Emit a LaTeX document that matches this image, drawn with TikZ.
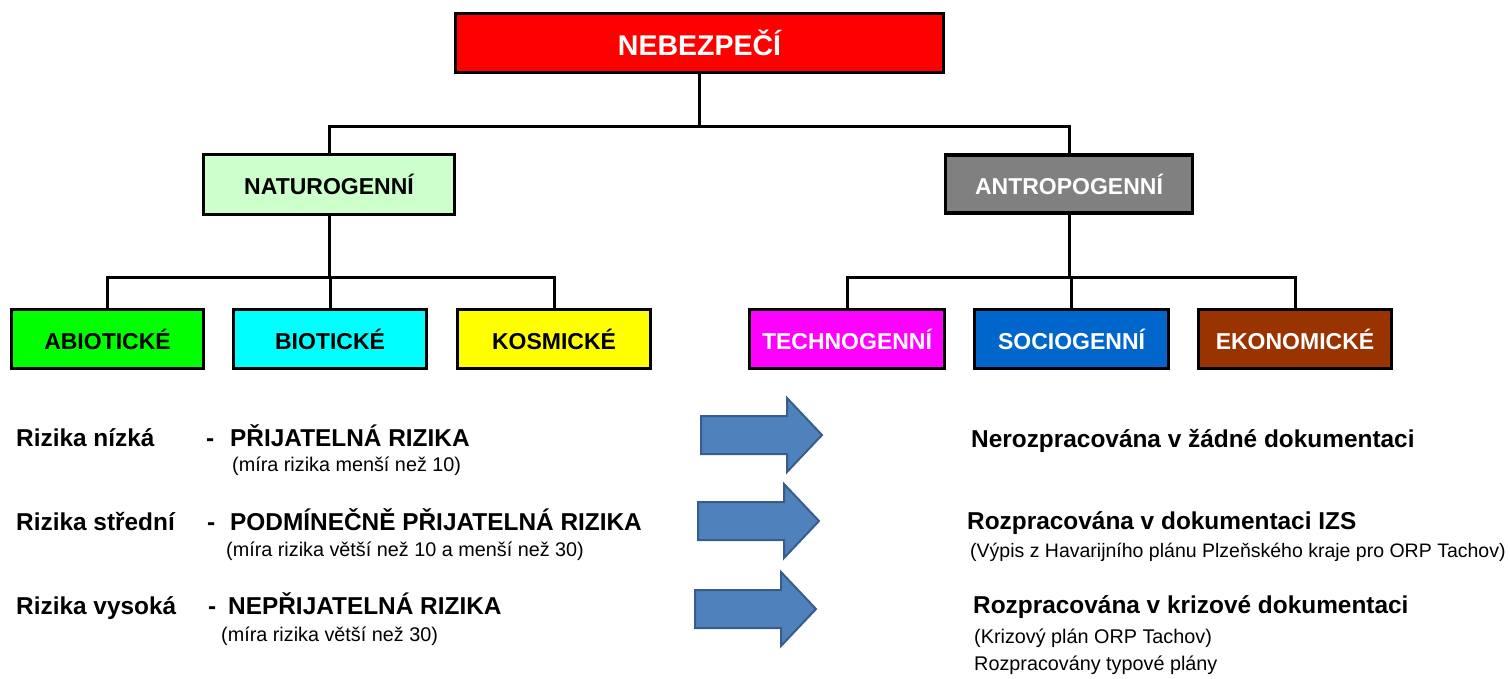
\documentclass[tikz,border=0pt]{standalone}
\usepackage{fontspec}
\setmainfont{Liberation Sans}
\begin{document}
\begin{tikzpicture}[x=1pt,y=-1pt,
  box/.style={draw=black, line width=3.5pt, inner sep=0pt, font=\fontsize{23}{26}\selectfont\bfseries},
  conn/.style={line width=3pt},
  bold/.style={anchor=base west, inner sep=0pt, font=\fontsize{24.4}{28}\selectfont\bfseries},
  small/.style={anchor=base west, inner sep=0pt, font=\fontsize{19.8}{24}\selectfont},
  arrfill/.style={fill=arrblue, draw=arrdark, line width=2pt, line join=miter},
  bigarr/.pic={\draw[arrfill] (0,-19) -- (86,-19) -- (86,-37) -- (121,0) -- (86,37) -- (86,19) -- (0,19) -- cycle;}
]
\definecolor{arrblue}{HTML}{4F81BD}
\definecolor{arrdark}{HTML}{385D8A}
\definecolor{natgreen}{HTML}{CCFFCC}
\definecolor{socblue}{HTML}{0066CC}
\definecolor{ekobrown}{HTML}{993300}
\definecolor{antgray}{HTML}{808080}
\definecolor{puregreen}{HTML}{00FF00}
\definecolor{purecyan}{HTML}{00FFFF}
\definecolor{pureyellow}{HTML}{FFFF00}
\definecolor{puremagenta}{HTML}{FF00FF}
\definecolor{purered}{HTML}{FF0000}
\useasboundingbox (0,0) rectangle (1510,678);

% boxes
\node[box, fill=purered, text=white, minimum width=488pt, minimum height=59pt, font=\fontsize{28.5}{32}\selectfont\bfseries] (top) at (699.5,43) {NEBEZPEČÍ};
\node[box, fill=natgreen, minimum width=251pt, minimum height=60pt] (nat) at (329,184.5) {NATUROGENNÍ};
\node[box, fill=antgray, text=white, minimum width=247pt, minimum height=58pt] (ant) at (1069,184) {ANTROPOGENNÍ};

\node[box, fill=puregreen, minimum width=192pt, minimum height=59pt] (abio) at (107.5,339) {ABIOTICKÉ};
\node[box, fill=purecyan, minimum width=193pt, minimum height=59pt] (bio) at (330,339) {BIOTICKÉ};
\node[box, fill=pureyellow, minimum width=193pt, minimum height=59pt] (kos) at (554,339) {KOSMICKÉ};
\node[box, fill=puremagenta, text=white, minimum width=195pt, minimum height=59pt] (tech) at (847,339) {TECHNOGENNÍ};
\node[box, fill=socblue, text=white, minimum width=194pt, minimum height=59pt] (soc) at (1071.5,339) {SOCIOGENNÍ};
\node[box, fill=ekobrown, text=white, minimum width=193pt, minimum height=59pt] (eko) at (1295,339) {EKONOMICKÉ};

% connectors
\coordinate (b1) at (0,126);
\coordinate (b2) at (0,277);
\draw[conn] (top.south) -- (top.south |- b1);
\draw[conn] (nat.north) |- (top.south |- b1) -| (ant.north);
\draw[conn] (nat.south) -- (nat.south |- b2);
\draw[conn] (abio.north) |- (nat.south |- b2) -| (kos.north);
\draw[conn] (bio.north) -- (bio.north |- b2);
\draw[conn] (ant.south) -- (ant.south |- b2);
\draw[conn] (tech.north) |- (ant.south |- b2) -| (eko.north);
\draw[conn] (soc.north) -- (soc.north |- b2);

% arrows
\pic at (701,435) {bigarr};
\pic at (698,521) {bigarr};
\pic at (695,609) {bigarr};

% left texts
\node[bold] (l1a) at (16,446) {Rizika nízká};
\node[bold] (l1b) at (206,446) {-};
\node[bold] (l1c) at (230,446) {PŘIJATELNÁ RIZIKA};
\node[small] (l1d) at (232,471) {(míra rizika menší než 10)};

\node[bold] (l2a) at (16,530) {Rizika střední};
\node[bold] (l2b) at (207,530) {-};
\node[bold] (l2c) at (230,530) {PODMÍNEČNĚ PŘIJATELNÁ RIZIKA};
\node[small] (l2d) at (226,556) {(míra rizika větší než 10 a menší než 30)};

\node[bold] (l3a) at (16,614) {Rizika vysoká};
\node[bold] (l3b) at (208,614) {-};
\node[bold] (l3c) at (228,614) {NEPŘIJATELNÁ RIZIKA};
\node[small] (l3d) at (221,641) {(míra rizika větší než 30)};

% right texts
\node[bold] (r1) at (971,447) {Nerozpracována v žádné dokumentaci};
\node[bold] (r2) at (967,529) {Rozpracována v dokumentaci IZS};
\node[small, font=\fontsize{19.5}{24}\selectfont] (r2b) at (970,557) {(Výpis z Havarijního plánu Plzeňského kraje pro ORP Tachov)};
\node[bold] (r3) at (973,613) {Rozpracována v krizové dokumentaci};
\node[small] (r3b) at (974,643) {(Krizový plán ORP Tachov)};
\node[small] (r3c) at (974,670) {Rozpracovány typové plány};
\end{tikzpicture}
\end{document}
